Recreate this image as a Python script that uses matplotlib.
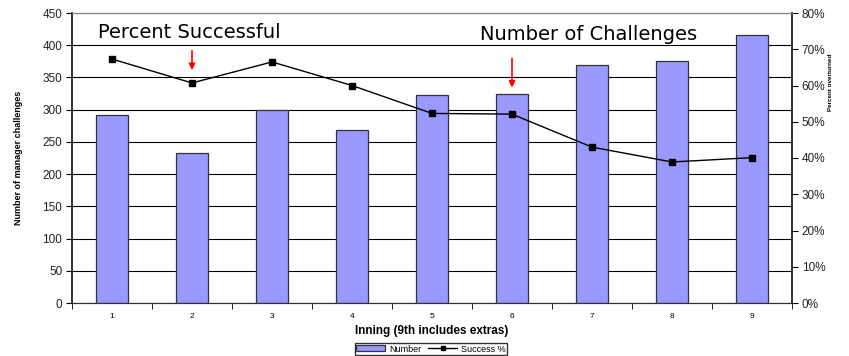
import matplotlib.pyplot as plt
from matplotlib.ticker import PercentFormatter, MultipleLocator, FixedLocator

# data
innings = [1, 2, 3, 4, 5, 6, 7, 8, 9]
challenges = [291, 232, 299, 269, 323, 324, 369, 375, 416]
success_pct = [67.3, 60.7, 66.5, 60.0, 52.3, 52.1, 43.0, 38.9, 40.1]

plt.rcParams['font.family'] = ['Liberation Sans', 'DejaVu Sans']

fig = plt.figure(figsize=(8.49, 3.56), dpi=100)
ax = fig.add_axes([72 / 849, 1 - 303 / 356, 720 / 849, 290 / 356])
ax2 = ax.twinx()

ax.bar(innings, challenges, width=0.4, color='#9999ff', edgecolor='#333333',
       linewidth=0.9, label='Number', zorder=2)
ax2.plot(innings, success_pct, color='black', lw=1.0, marker='s', ms=5,
         label='Success %', zorder=3)

ax.set_xlim(0.5, 9.5)
ax.set_ylim(0, 450)
ax2.set_ylim(0, 80)
ax.yaxis.set_major_locator(MultipleLocator(50))
ax2.yaxis.set_major_locator(MultipleLocator(10))
ax2.yaxis.set_major_formatter(PercentFormatter(decimals=0))

# gridlines on left scale
ax.grid(axis='y', color='black', lw=0.8, zorder=0)
ax.set_axisbelow(True)

ax.set_xticks(innings)
ax.xaxis.set_minor_locator(FixedLocator([i + 0.5 for i in range(0, 10)]))
ax.tick_params(axis='x', which='major', length=0, labelsize=6, pad=7)
ax.tick_params(axis='x', which='minor', length=4, direction='out')
ax.tick_params(axis='y', length=4, direction='out', labelsize=8.5, pad=3,
               labelcolor='#222222')
ax2.tick_params(axis='y', length=4, direction='out', labelsize=8.5, pad=3,
                labelcolor='#222222')

for a in (ax, ax2):
    a.spines['top'].set_color('#888888')
    a.spines['left'].set_color('#333333')
    a.spines['right'].set_color('#333333')
    a.spines['bottom'].set_color('#333333')
    a.spines['left'].set_linewidth(1.2)
    a.spines['right'].set_linewidth(1.2)

ax.set_xlabel('Inning (9th includes extras)', fontsize=8.5, fontweight='bold',
              labelpad=4)
ax.set_ylabel('Number of manager challenges', fontsize=6.5, fontweight='bold',
              labelpad=14)
ax2.set_ylabel('Percent overturned', fontsize=4.5, fontweight='bold',
               labelpad=10)
ax2.yaxis.set_label_coords(1.05, 0.76)

# annotations
ax.text(0.82, 419, 'Percent Successful', fontsize=14, family='DejaVu Sans',
        va='center', ha='left', zorder=5)
ax.text(5.6, 417, 'Number of Challenges', fontsize=14, family='DejaVu Sans',
        va='center', ha='left', zorder=5)
ax.annotate('', xy=(2.0, 357), xytext=(2.0, 396),
            arrowprops=dict(arrowstyle='-|>', color='red', lw=1.2,
                            mutation_scale=9))
ax.annotate('', xy=(6.0, 330), xytext=(6.0, 384),
            arrowprops=dict(arrowstyle='-|>', color='red', lw=1.2,
                            mutation_scale=9))

h1, l1 = ax.get_legend_handles_labels()
h2, l2 = ax2.get_legend_handles_labels()
fig.legend(h1 + h2, l1 + l2, loc='center', bbox_to_anchor=(431 / 849, 1 - 349 / 356),
           ncol=2, fontsize=6.5, frameon=True, fancybox=False, edgecolor='black',
           handlelength=3.2, handleheight=0.6, columnspacing=0.8, handletextpad=0.4,
           borderpad=0.2, markerscale=0.7)

fig.savefig('out.png', dpi=100)
